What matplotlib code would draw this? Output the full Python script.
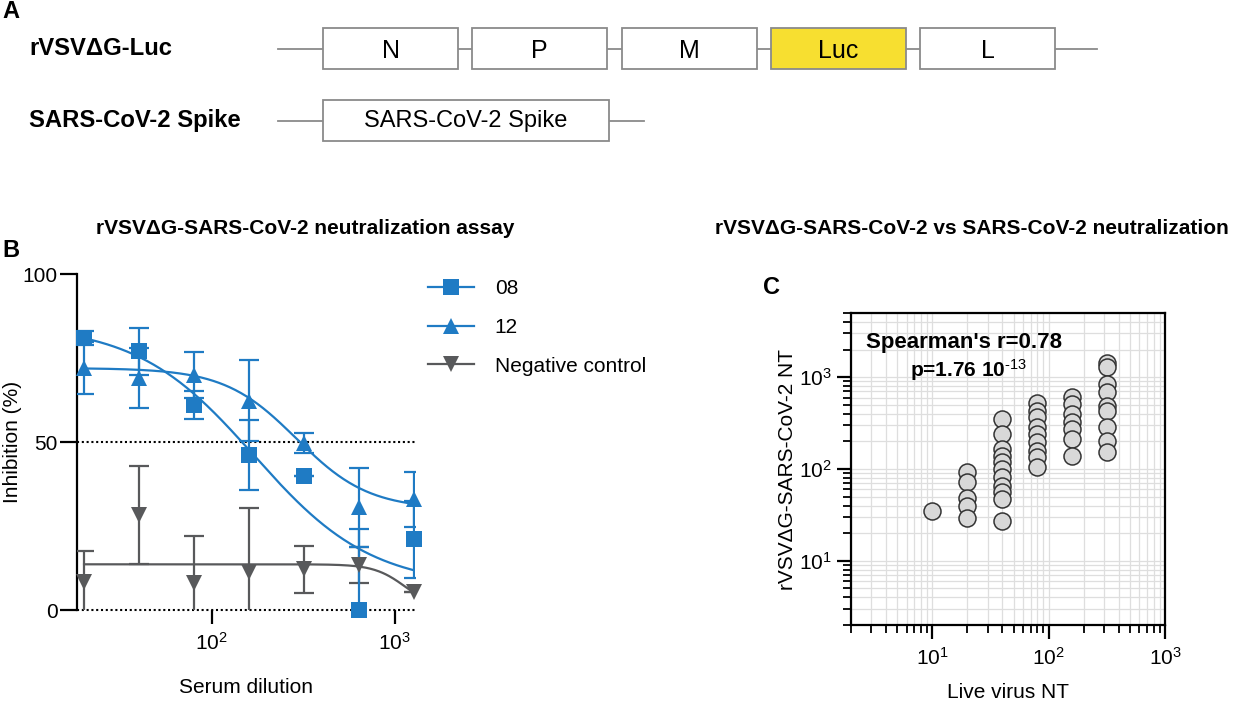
import numpy as np
import matplotlib
matplotlib.use('Agg')
import matplotlib.pyplot as plt
from matplotlib import font_manager as fm
from matplotlib.patches import Rectangle
from matplotlib.lines import Line2D
from matplotlib.ticker import LogLocator, FixedLocator, NullLocator, NullFormatter, LogFormatterSciNotation

_names = {f.name for f in fm.fontManager.ttflist}
SANS = 'Liberation Sans' if 'Liberation Sans' in _names else 'DejaVu Sans'
NARROW = 'Liberation Sans Narrow' if 'Liberation Sans Narrow' in _names else SANS
plt.rcParams['font.family'] = [SANS, 'DejaVu Sans']
plt.rcParams['mathtext.fontset'] = 'custom'
plt.rcParams['mathtext.rm'] = SANS
plt.rcParams['mathtext.bf'] = SANS + ':bold'
plt.rcParams['mathtext.it'] = SANS + ':italic'

# ---------------- data ----------------
constructs = ['rVSVΔG-Luc', 'SARS-CoV-2 Spike']
genes = ['N', 'P', 'M', 'Luc', 'L']
gene_fill = ['white', 'white', 'white', '#F7DF30', 'white']
spike_box_label = 'SARS-CoV-2 Spike'

dilution = [20, 40, 80, 160, 320, 640, 1280]
inh_08 = [81, 77, 61, 46, 40, 0, 21]
sd_08 = [2, 7, 4.2, 10.4, 0, 24, 11.5]
inh_12 = [72, 69, 70, 62.3, 49.6, 30.6, 33]
sd_12 = [7.8, 9, 6.8, 12, 3, 11.8, 8.2]
inh_neg = [8.4, 28.3, 7.9, 11.4, 12.1, 13.4, 5.3]
sd_neg = [9.3, 14.5, 14.2, 19, 6.9, 5.4, 0]
series_names = ['08', '12', 'Negative control']
# four-parameter logistic fits: top, bottom, IC50, hill
fit_08 = [85, 7, 170, 1.35]
fit_12 = [72, 30, 290, 2.2]
fit_neg = [13.6, 0, 1150, 5]

live_nt_10 = [35]
live_nt_20 = [92, 73, 48, 40, 29]
live_nt_40 = [347, 242, 166, 140, 118, 100, 81, 66, 56, 47, 27]
live_nt_80 = [520, 433, 366, 290, 242, 196, 159, 134, 104]
live_nt_160 = [603, 513, 399, 323, 274, 213, 140]
live_nt_320 = [1420, 1285, 846, 687, 490, 430, 285, 204, 152]
live_levels = [10, 20, 40, 80, 160, 320]
rvsv_groups = [live_nt_10, live_nt_20, live_nt_40, live_nt_80, live_nt_160, live_nt_320]

BLUE = '#1F7BC4'
GREY = '#58595B'
LINEGREY = '#8A8A8A'

# ---------------- figure ----------------
W, H = 1233, 707
fig = plt.figure(figsize=(W / 100, H / 100), dpi=100)


def fx(px):
    return px / W


def fy(py):
    return 1 - py / H


# ---------------- panel A (diagram) ----------------
axd = fig.add_axes([0, 1 - 150 / H, 1, 150 / H])
axd.set_xlim(0, W)
axd.set_ylim(150, 0)
axd.axis('off')

box_start, box_pitch, box_w, box_h = 323, 149.3, 135, 41
row_y = [48.5, 120.5]
axd.plot([278, 1097], [row_y[0]] * 2, color=LINEGREY, lw=1.3, zorder=1)
for i, (g, fc) in enumerate(zip(genes, gene_fill)):
    x0 = box_start + i * box_pitch
    axd.add_patch(Rectangle((x0, row_y[0] - box_h / 2), box_w, box_h,
                            facecolor=fc, edgecolor=LINEGREY, lw=1.3, zorder=2))
    axd.text(x0 + box_w / 2, row_y[0] + 2, g, ha='center', va='center',
             fontsize=18, color='black', zorder=3)
axd.plot([278, 644], [row_y[1]] * 2, color=LINEGREY, lw=1.3, zorder=1)
axd.add_patch(Rectangle((box_start, row_y[1] - box_h / 2), 286, box_h,
                        facecolor='white', edgecolor=LINEGREY, lw=1.3, zorder=2))
axd.text(box_start + 143, row_y[1] + 1, spike_box_label, ha='center', va='center',
         fontsize=17, zorder=3)
for lab, yy in zip(constructs, row_y):
    axd.text(29, yy, lab, ha='left', va='center', fontsize=17.2,
             fontweight='bold', family=[NARROW, 'DejaVu Sans'])

fig.text(fx(2), fy(11), 'A', fontsize=17, fontweight='bold', ha='left', va='center')
fig.text(fx(2), fy(251), 'B', fontsize=17, fontweight='bold', ha='left', va='center')
fig.text(fx(763), fy(287), 'C', fontsize=17, fontweight='bold', ha='left', va='center')
fig.text(fx(305), fy(228), 'rVSVΔG-SARS-CoV-2 neutralization assay', ha='center',
         va='center', fontsize=15, fontweight='bold', family=[NARROW, 'DejaVu Sans'])
fig.text(fx(972), fy(228), 'rVSVΔG-SARS-CoV-2 vs SARS-CoV-2 neutralization', ha='center',
         va='center', fontsize=15, fontweight='bold', family=[NARROW, 'DejaVu Sans'])

# ---------------- panel B ----------------
axB = fig.add_axes([fx(77), fy(610), fx(415) - fx(77), fy(274) - fy(610)])
axB.set_xscale('log')
axB.set_xlim(18.3, 1290)
axB.set_ylim(0, 100)


def four_pl(x, p):
    top, bottom, ic50, hill = p
    return bottom + (top - bottom) / (1 + (x / ic50) ** hill)


xs = np.logspace(np.log10(dilution[0]), np.log10(dilution[-1]), 300)
specs = [
    (inh_neg, sd_neg, fit_neg, GREY, 'v'),
    (inh_12, sd_12, fit_12, BLUE, '^'),
    (inh_08, sd_08, fit_08, BLUE, 's'),
]
for vals, sds, fit, col, mk in specs:
    axB.plot(xs, four_pl(xs, fit), color=col, lw=1.6, zorder=2)
    axB.errorbar(dilution, vals, yerr=sds, fmt='none', ecolor=col, elinewidth=1.6,
                 capsize=7, capthick=1.6, zorder=3)
    axB.plot(dilution, vals, linestyle='none', marker=mk, color=col, markersize=11,
             markeredgewidth=0, zorder=4, clip_on=False)

axB.axhline(50, color='black', lw=1.5, ls=(0, (1, 1.3)), zorder=1)
axB.axhline(0, color='black', lw=1.5, ls=(0, (1, 1.3)), zorder=1, clip_on=False)
for s in ['top', 'right', 'bottom']:
    axB.spines[s].set_visible(False)
axB.spines['left'].set_linewidth(1.6)
axB.set_yticks([0, 50, 100])
axB.xaxis.set_major_locator(FixedLocator([100, 1000]))
axB.xaxis.set_major_formatter(LogFormatterSciNotation())
axB.xaxis.set_minor_locator(NullLocator())
axB.tick_params(axis='y', length=12, width=1.6, labelsize=15, pad=2)
axB.tick_params(axis='x', length=10, width=1.6, labelsize=15, pad=6)
axB.set_ylabel('Inhibition (%)', fontsize=15, labelpad=0)
axB.set_xlabel('Serum dilution', fontsize=15, labelpad=17)

handles = [
    Line2D([], [], color=BLUE, marker='s', markersize=11, markeredgewidth=0, lw=1.6),
    Line2D([], [], color=BLUE, marker='^', markersize=11, markeredgewidth=0, lw=1.6),
    Line2D([], [], color=GREY, marker='v', markersize=11, markeredgewidth=0, lw=1.6),
]
axB.legend(handles, series_names, loc='upper left', bbox_to_anchor=(fx(428), fy(279)),
           bbox_transform=fig.transFigure, frameon=False, fontsize=15, handlelength=2.2,
           handletextpad=1.0, labelspacing=0.95, borderpad=0, borderaxespad=0)

# ---------------- panel C ----------------
axC = fig.add_axes([fx(851), fy(625), fx(1165) - fx(851), fy(313) - fy(625)])
axC.set_xscale('log')
axC.set_yscale('log')
axC.set_xlim(2, 1000)
axC.set_ylim(2, 5000)
for lvl, grp in zip(live_levels, rvsv_groups):
    axC.scatter([lvl] * len(grp), grp, s=150, facecolor='#D8D8D8', edgecolor='#333333',
                linewidth=1.1, zorder=3)
axC.set_axisbelow(True)
axC.grid(True, which='both', color='#DEDEDE', lw=0.9)
for s in axC.spines.values():
    s.set_linewidth(1.6)
axC.xaxis.set_major_locator(LogLocator(base=10, numticks=10))
axC.yaxis.set_major_locator(LogLocator(base=10, numticks=10))
axC.xaxis.set_minor_locator(LogLocator(base=10, subs=np.arange(2, 10), numticks=20))
axC.yaxis.set_minor_locator(LogLocator(base=10, subs=np.arange(2, 10), numticks=20))
axC.xaxis.set_minor_formatter(NullFormatter())
axC.yaxis.set_minor_formatter(NullFormatter())
axC.tick_params(which='major', length=10, width=1.6, labelsize=15)
axC.tick_params(which='minor', length=6, width=1.3)
axC.tick_params(axis='x', which='major', pad=6)
axC.set_xlabel('Live virus NT', fontsize=15, labelpad=10)
axC.set_ylabel('rVSVΔG-SARS-CoV-2 NT', fontsize=15, labelpad=2)
axC.text(0.36, 0.907, "Spearman's r=0.78", transform=axC.transAxes, ha='center',
         va='center', fontsize=16, fontweight='bold')
axC.text(0.375, 0.817, r"p=1.76 10$^{\text{-13}}$", transform=axC.transAxes, ha='center',
         va='center', fontsize=15, fontweight='bold')

fig.savefig('out.png', dpi=100)
